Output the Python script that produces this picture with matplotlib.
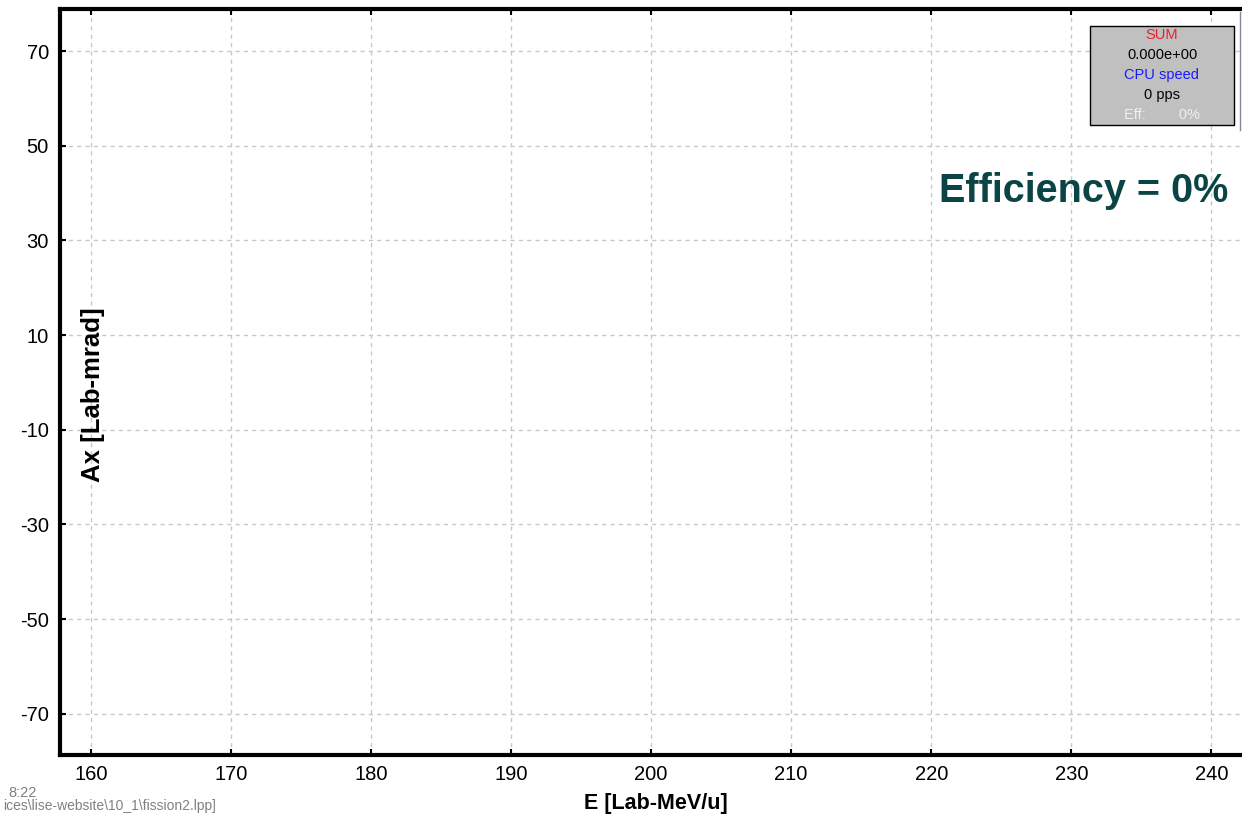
import numpy as np
import matplotlib
matplotlib.use("Agg")
import matplotlib.pyplot as plt
from matplotlib.patches import Rectangle

plt.rcParams['font.family'] = ['Liberation Sans', 'DejaVu Sans']
plt.rcParams['axes.unicode_minus'] = False

# axis setup
x_ticks = [160, 170, 180, 190, 200, 210, 220, 230, 240]
y_ticks = [70, 50, 30, 10, -10, -30, -50, -70]
x_range = [157.8, 242.4]
y_range = [-78.7, 78.9]

# status box lines (text, colour)
box_lines = ["SUM", "0.000e+00", "CPU speed", "0 pps", "Eff:        0%"]
box_colors = ["#e8202a", "black", "#1a1aff", "black", "#f0f0f0"]

efficiency_text = "Efficiency = 0%"
time_text = "8:22"
path_text = "ices\\lise-website\\10_1\\fission2.lpp]"

W, H = 1242, 816
fig = plt.figure(figsize=(W / 100, H / 100), dpi=100)
ax = fig.add_axes([60 / W, 1 - 755 / H, 1185 / W, 746 / H])

ax.set_xlim(*x_range)
ax.set_ylim(*y_range)
ax.set_xticks(x_ticks)
ax.set_yticks(y_ticks)
ax.tick_params(direction='in', length=4, width=1.5, top=True, right=False,
               labelsize=14.5, pad=7)
ax.tick_params(axis='y', pad=8)
ax.grid(True, linestyle=(0, (3, 3)), color='#c8c8c8', linewidth=1)
for s in ['left', 'top', 'bottom']:
    ax.spines[s].set_linewidth(3)
ax.spines['right'].set_visible(False)

ax.set_xlabel("E [Lab-MeV/u]", fontsize=15.5, fontweight='bold')
ax.xaxis.set_label_coords((656 - 60) / 1185, -(803 - 755) / 746)
ax.set_ylabel("Ax [Lab-mrad]", fontsize=18.5, fontweight='bold')
ax.yaxis.set_label_coords((93 - 60) / 1185, (755 - 395) / 746)
ax.yaxis.label.set_va('center')
ax.xaxis.label.set_va('center')

ax.text(1228 / W, 1 - 191 / H, efficiency_text, transform=fig.transFigure,
        ha='right', va='center', fontsize=28.5, fontweight='bold', color='#0b4444')

# status box
bx0, by0, bx1, by1 = 1090, 26, 1234, 125
fig.patches.append(Rectangle((bx0 / W, 1 - by1 / H), (bx1 - bx0) / W, (by1 - by0) / H,
                             transform=fig.transFigure, facecolor='#c0c0c0',
                             edgecolor='black', linewidth=1))
for i, (t, c) in enumerate(zip(box_lines, box_colors)):
    fig.text(1162 / W, 1 - (35 + 20 * i) / H, t, ha='center', va='center',
             fontsize=10.5, color=c)

# thin vertical edge at the right
fig.add_artist(plt.Line2D([1240 / W, 1240 / W], [1 - 130 / H, 1 - 12 / H],
                          transform=fig.transFigure, color='#8a80a0', linewidth=1))

fig.text(8 / W, 1 - 793 / H, time_text, ha='left', va='center', fontsize=10.5, color='#808080')
fig.text(3 / W, 1 - 806 / H, path_text, ha='left', va='center', fontsize=10, color='#808080')

fig.savefig("out.png", dpi=100)
